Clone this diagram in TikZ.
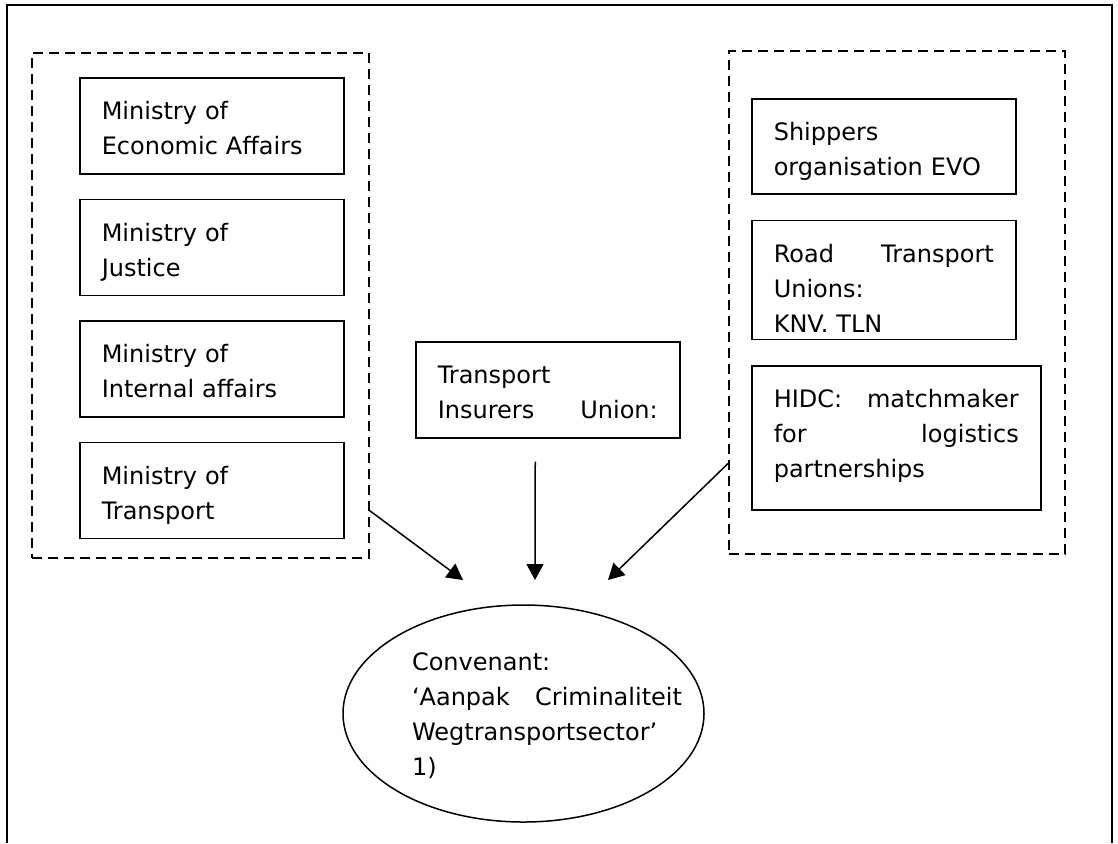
\documentclass[tikz,border=0pt]{standalone}
\usepackage{fontspec}
\setmainfont{DejaVu Sans}
\usepackage{tikz}
\usetikzlibrary{positioning, shapes.geometric, arrows.meta}
\tikzset{
    block/.style={
        draw, line width = 0.75pt,
        anchor = north west,
        inner xsep = 11pt, inner ysep = 0pt,
        text width = 110pt,
        text height = 21pt,
        align = left,
        font = \fontsize{12}{17.5}\selectfont
    },
    group/.style={
        draw, line width = 0.75pt,
        dash pattern = on 5pt off 3pt,
        anchor = north west, inner sep = 0pt
    },
    convention/.style={
        draw, ellipse, line width = 0.75pt,
        minimum width = 180.5pt, minimum height = 108.5pt
    },
    conventiontext/.style={
        text width = 135pt, align = left,
        font = \fontsize{12}{17.5}\selectfont
    },
    line/.style = {-{Triangle[length=8pt, width=8.5pt]}, line width = 0.75pt}
}

\begin{document}
\begin{tikzpicture}[x = 0.5pt, y = -0.5pt]

    \useasboundingbox (0,0) rectangle (1118,843);
    \draw[line width = 1pt] (7,843) |- (1112,5) -- (1112,843);

    \node[group, minimum width = 168.5pt, minimum height = 252.5pt] (gov) at (31,52) {};
    \node[block, text depth = 27pt] (econ) at (79,77) {Ministry of\\Economic Affairs};
    \node[block, text depth = 27pt, below = 12pt of econ] (justice) {Ministry of\\Justice};
    \node[block, text depth = 27pt, below = 12pt of justice] (internal) {Ministry of\\Internal affairs};
    \node[block, text depth = 27pt, below = 12pt of internal] (transport) {Ministry of\\Transport};

    \node[block, text depth = 27pt] (insurers) at (415,341) {Transport\\Insurers\hfill Union:};

    \node[group, minimum width = 168pt, minimum height = 251.5pt] (business) at (728,50) {};
    \node[block, text depth = 26.5pt] (evo) at (751,98) {Shippers\\organisation EVO};
    \node[block, text depth = 38.5pt, below = 12.5pt of evo] (unions) {Road\hfill Transport\\Unions:\\KNV. TLN};
    \node[block, text depth = 51pt, text width = 122.5pt, below = 12.5pt of unions.south west, anchor = north west] (hidc) {HIDC:\hfill matchmaker\\for\hfill logistics\\partnerships};

    \node[convention, label = {[conventiontext, xshift = 11.75pt, yshift = -1.25pt]center:{Convenant:\\‘Aanpak\hfill Criminaliteit\\Wegtransportsector’\\1)}}] (conv) at (523.5,713.5) {};

    \coordinate (tipgov) at (463,580);
    \coordinate (tipins) at (535,580);
    \coordinate (tipbus) at (608,580);

    \draw[line] (gov.south east) ++(0,-48) -- (tipgov);
    \draw[line] (insurers.south) ++(-12.5,23) -- (tipins);
    \draw[line] (business.south west) ++(0,-91) -- (tipbus);

    %\node[block, below = 12pt of transport] (police) {Police};

\end{tikzpicture}
\end{document}
